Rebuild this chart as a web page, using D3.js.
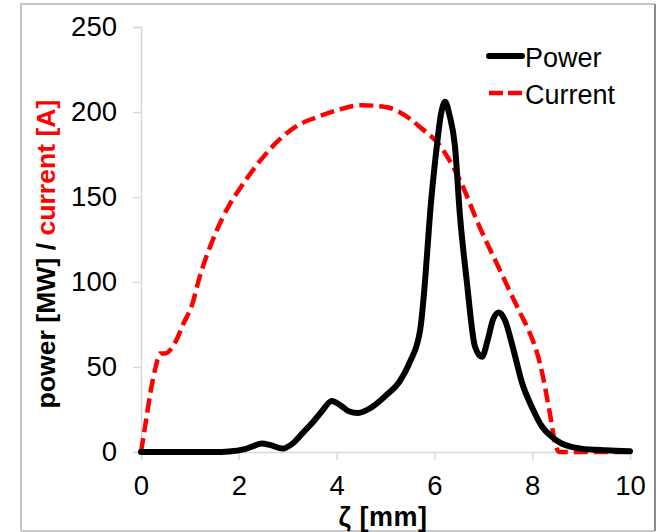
<!DOCTYPE html>
<html>
<head>
<meta charset="utf-8">
<script src="https://cdn.jsdelivr.net/npm/d3@7/dist/d3.min.js"></script>
<style>
  html, body { margin: 0; padding: 0; background: #fff; }
  svg { display: block; font-family: "Liberation Sans", Arial, sans-serif; }
</style>
</head>
<body>
<svg id="chart" width="658" height="532"></svg>
<script>
// Longitudinal position along the bunch [mm] and the sampled profiles
const zetaPower = [0, 0.5, 1, 1.5, 1.8, 2.1, 2.3, 2.47, 2.65, 2.9, 3.1, 3.3, 3.5, 3.7, 3.9, 4.1, 4.25, 4.44, 4.7, 5.0, 5.3, 5.5, 5.71, 5.81, 5.91, 6.05, 6.13, 6.22, 6.31, 6.42, 6.52, 6.66, 6.83, 6.97, 7.1, 7.2, 7.32, 7.45, 7.6, 7.8, 8.0, 8.2, 8.4, 8.6, 8.8, 9.0, 9.5, 10];
const power     = [0, 0, 0, 0, 0.3, 1.5, 3.5, 5, 4, 2, 5, 11, 17, 24, 30, 27, 24, 23, 26, 33, 42, 53, 72, 101, 140, 180, 198, 206, 198, 180, 140, 101, 62, 56, 67, 78, 82, 77, 62, 40, 26, 15, 9, 5, 3, 2, 1, 0.5];

const zetaCurrent = [0, 0.1, 0.2, 0.3, 0.39, 0.49, 0.69, 0.86, 1.06, 1.17, 1.5, 1.82, 2.0, 2.4, 2.84, 3.2, 3.6, 4.0, 4.5, 5.0, 5.5, 5.71, 6.12, 6.52, 6.93, 7.34, 7.75, 7.92, 8.16, 8.36, 8.47, 8.55, 9, 10];
const current     = [0, 18, 36, 50, 58, 58, 64, 75, 88, 100, 127, 146, 154, 170, 184, 192, 197, 201, 204, 203, 196, 191, 180, 160, 132, 107, 82, 72, 52, 23, 5, 0, 0, 0];

const xTicks = [0, 2, 4, 6, 8, 10];
const yTicks = [0, 50, 100, 150, 200, 250];
const seriesNames = ["Power", "Current"];

const svg = d3.select("#chart");

// outer frame
svg.append("path").attr("d", "M21,531 V4 H655").attr("fill", "none").attr("stroke", "#c4c4c4").attr("stroke-width", 2);
svg.append("path").attr("d", "M21,531 H655").attr("fill", "none").attr("stroke", "#c8c8c8").attr("stroke-width", 2);
svg.append("line").attr("x1", 655).attr("x2", 655).attr("y1", 4).attr("y2", 531).attr("stroke", "#8a8a8a").attr("stroke-width", 2);

const x = d3.scaleLinear().domain([0, 10]).range([141, 630]);
const y = d3.scaleLinear().domain([0, 250]).range([452, 27]);

const axisColor = "#d9d9d9";
const tickFont = 27.5;
const fontFamily = "'Liberation Sans', Arial, sans-serif";

// y axis
const gy = svg.append("g").attr("transform", "translate(141,0)")
  .call(d3.axisLeft(y).tickValues(yTicks).tickSize(8).tickPadding(16).tickFormat(d3.format("d")));
gy.select(".domain").attr("stroke", axisColor).attr("stroke-width", 1.5);
gy.selectAll(".tick line").attr("stroke", axisColor).attr("stroke-width", 1.5);
gy.selectAll(".tick text").attr("font-size", tickFont).attr("fill", "#000").attr("font-family", fontFamily);

// x axis
const gx = svg.append("g").attr("transform", "translate(0,452)")
  .call(d3.axisBottom(x).tickValues(xTicks).tickSize(8).tickPadding(15).tickFormat(d3.format("d")));
gx.select(".domain").attr("stroke", axisColor).attr("stroke-width", 1.5);
gx.selectAll(".tick line").attr("stroke", axisColor).attr("stroke-width", 1.5);
gx.selectAll(".tick text").attr("font-size", tickFont).attr("fill", "#000").attr("font-family", fontFamily);

// axis titles
svg.append("text").attr("x", 383).attr("y", 526).attr("text-anchor", "middle")
  .attr("font-size", 27).attr("font-weight", "bold").attr("letter-spacing", 0.5).text("ζ [mm]");

const yt = svg.append("text").attr("transform", "translate(55,254) rotate(-90)")
  .attr("text-anchor", "middle").attr("font-size", 26.6).attr("font-weight", "bold");
yt.append("tspan").attr("fill", "#000").text("power [MW] / ");
yt.append("tspan").attr("fill", "#ff0000").text("current [A]");

// curves
const line = d3.line().curve(d3.curveMonotoneX);

svg.append("path")
  .datum(zetaCurrent.map((z, i) => [x(z), y(current[i])]))
  .attr("d", line).attr("fill", "none").attr("stroke", "#ff0000")
  .attr("stroke-width", 4.5).attr("stroke-dasharray", "14,6");

svg.append("path")
  .datum(zetaPower.map((z, i) => [x(z), y(power[i])]))
  .attr("d", line).attr("fill", "none").attr("stroke", "#000")
  .attr("stroke-width", 6).attr("stroke-linejoin", "round").attr("stroke-linecap", "round");

// legend
const legend = svg.append("g");
const legendStyles = [
  { color: "#000", dash: null, width: 6, cap: "round" },
  { color: "#ff0000", dash: "14,5", width: 4.5, cap: "butt" }
];
seriesNames.forEach((name, i) => {
  const ly = 56 + i * 37;
  legend.append("line").attr("x1", 489).attr("x2", 522).attr("y1", ly).attr("y2", ly)
    .attr("stroke", legendStyles[i].color).attr("stroke-width", legendStyles[i].width)
    .attr("stroke-linecap", legendStyles[i].cap)
    .attr("stroke-dasharray", legendStyles[i].dash);
  legend.append("text").attr("x", 525).attr("y", ly + 10.5).attr("font-size", 27).attr("fill", "#000").text(name);
});
</script>
</body>
</html>
